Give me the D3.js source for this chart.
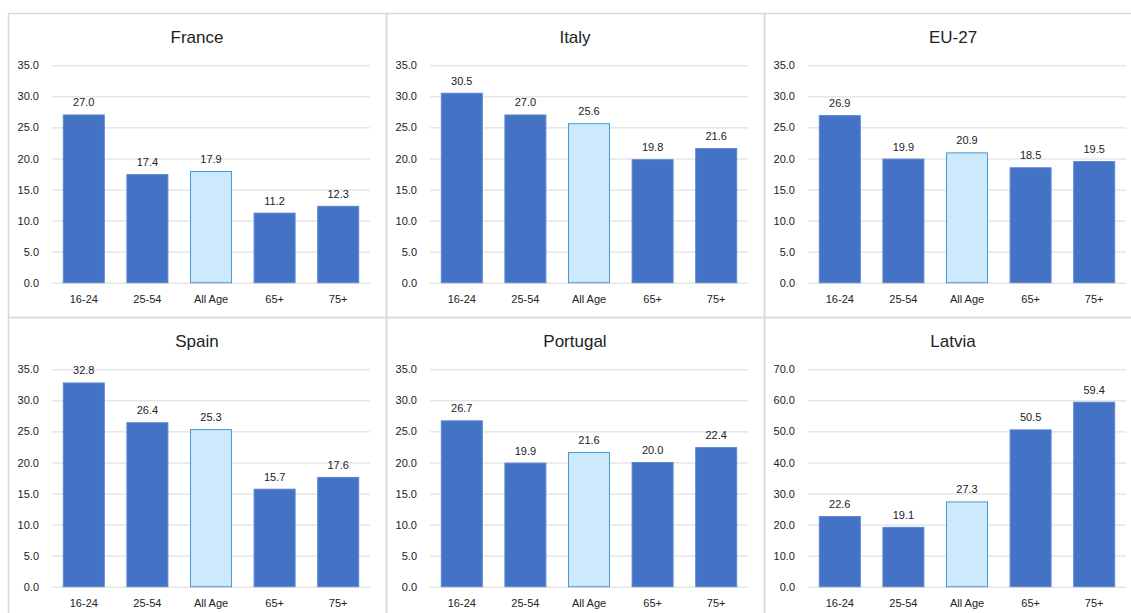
<!DOCTYPE html>
<html>
<head>
<meta charset="utf-8">
<script src="https://cdn.jsdelivr.net/npm/d3@7"></script>
<style>
  html, body { margin: 0; padding: 0; background: #fff; }
  svg { display: block; font-family: "Liberation Sans", Arial, sans-serif; }
</style>
</head>
<body>
<div id="chart"></div>
<script>
// --- data ---
const ageGroups = ['16-24', '25-54', 'All Age', '65+', '75+'];
const countries = ['France', 'Italy', 'EU-27', 'Spain', 'Portugal', 'Latvia'];
const franceValues   = [27.0, 17.4, 17.9, 11.2, 12.3];
const italyValues    = [30.5, 27.0, 25.6, 19.8, 21.6];
const eu27Values     = [26.9, 19.9, 20.9, 18.5, 19.5];
const spainValues    = [32.8, 26.4, 25.3, 15.7, 17.6];
const portugalValues = [26.7, 19.9, 21.6, 20.0, 22.4];
const latviaValues   = [22.6, 19.1, 27.3, 50.5, 59.4];
const seriesValues = [franceValues, italyValues, eu27Values, spainValues, portugalValues, latviaValues];
const yMaxes = [35, 35, 35, 35, 35, 70];
const yStepTicks = [5, 5, 5, 5, 5, 10];

// --- layout ---
const W = 1131, H = 613;
const panelW = 378, panelH = 304;
const originX = 8, originY = 13.5;
const plot = { left: 44, right: 362, top: 51.8, bottom: 269.2 };

const svg = d3.select('#chart').append('svg')
  .attr('width', W).attr('height', H);

countries.forEach((name, k) => {
  const col = k % 3, row = Math.floor(k / 3);
  const g = svg.append('g')
    .attr('transform', `translate(${originX + col * panelW},${originY + row * panelH})`);

  g.append('rect')
    .attr('x', 0.5).attr('y', 0)
    .attr('width', panelW).attr('height', panelH)
    .attr('fill', 'none')
    .attr('stroke', '#d9d9d9')
    .attr('stroke-width', 1.5);

  g.append('text')
    .attr('x', panelW / 2).attr('y', 29.5)
    .attr('text-anchor', 'middle')
    .attr('font-size', 17)
    .attr('fill', '#222')
    .text(name);

  const x = d3.scaleBand()
    .domain(ageGroups)
    .range([plot.left, plot.right])
    .paddingInner(0.34)
    .paddingOuter(0.17);

  const y = d3.scaleLinear()
    .domain([0, yMaxes[k]])
    .range([plot.bottom, plot.top]);

  const ticks = d3.range(0, yMaxes[k] + 0.001, yStepTicks[k]);

  // gridlines + y labels
  const yAxis = d3.axisLeft(y)
    .tickValues(ticks)
    .tickFormat(d3.format('.1f'))
    .tickSize(-(plot.right - plot.left))
    .tickPadding(13);

  const ya = g.append('g')
    .attr('transform', `translate(${plot.left},0)`)
    .call(yAxis);
  ya.select('.domain').remove();
  ya.selectAll('.tick line').attr('stroke', '#d9d9d9').attr('stroke-width', 1);
  ya.selectAll('.tick text').attr('font-size', 11).attr('fill', '#222')
    .attr('font-family', '"Liberation Sans", Arial, sans-serif');

  // x labels
  const xa = g.append('g')
    .attr('transform', `translate(0,${plot.bottom})`)
    .call(d3.axisBottom(x).tickSize(0).tickPadding(13));
  xa.select('.domain').remove();
  xa.selectAll('.tick text').attr('font-size', 11).attr('fill', '#222')
    .attr('font-family', '"Liberation Sans", Arial, sans-serif');

  const vals = seriesValues[k];

  g.selectAll('rect.bar')
    .data(vals)
    .enter().append('rect')
    .attr('class', 'bar')
    .attr('x', (d, i) => x(ageGroups[i]) + 0.5)
    .attr('width', x.bandwidth() - 1)
    .attr('y', d => y(d))
    .attr('height', d => y(0) - y(d))
    .attr('fill', (d, i) => ageGroups[i] === 'All Age' ? '#cdeafc' : '#4472c4')
    .attr('stroke', (d, i) => ageGroups[i] === 'All Age' ? '#4a9bd8' : '#5b86d0')
    .attr('stroke-width', 1);

  g.selectAll('text.val')
    .data(vals)
    .enter().append('text')
    .attr('class', 'val')
    .attr('x', (d, i) => x(ageGroups[i]) + x.bandwidth() / 2)
    .attr('y', d => y(d) - 8.5)
    .attr('text-anchor', 'middle')
    .attr('font-size', 11)
    .attr('fill', '#222')
    .text(d => d.toFixed(1));
});
</script>
</body>
</html>
